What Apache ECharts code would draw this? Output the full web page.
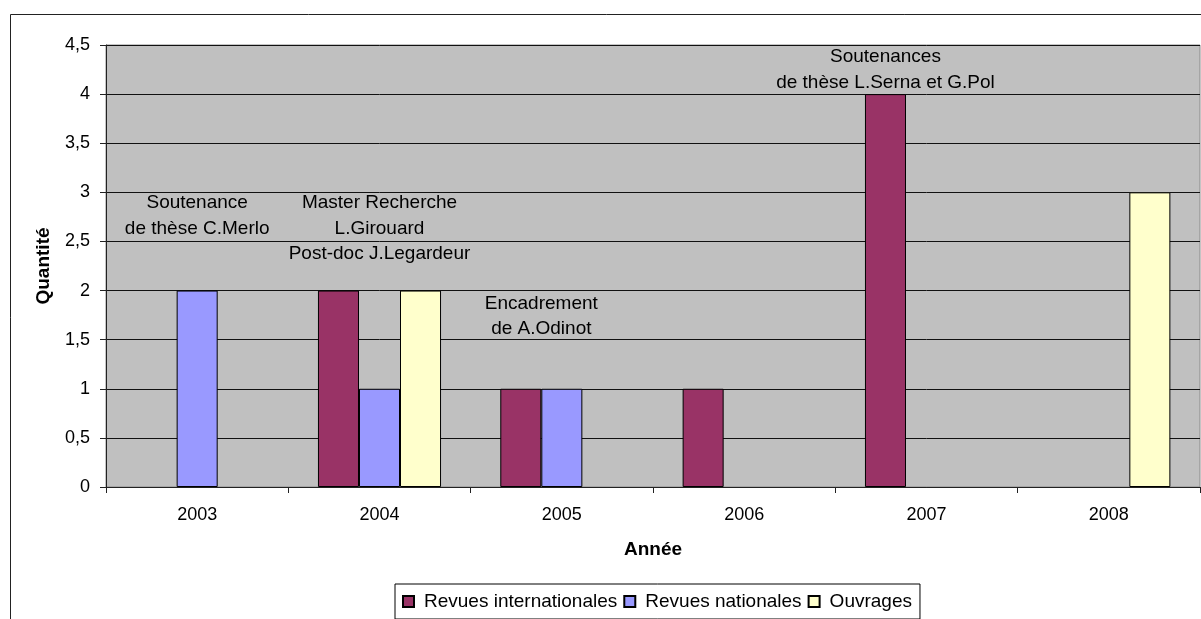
<!DOCTYPE html>
<html lang="fr">
<head>
<meta charset="UTF-8">
<title>Publications par année</title>
<script src="https://cdn.jsdelivr.net/npm/echarts@6/dist/echarts.min.js"></script>
<style>
  html, body { margin: 0; padding: 0; background: #fff; }
  #main { width: 1201px; height: 619px; }
</style>
</head>
<body>
<div id="main"></div>
<script>
// donnees
var years = ['2003', '2004', '2005', '2006', '2007', '2008'];
var revuesInternationales = ['-', 2, 1, 1, 4, '-'];
var revuesNationales = [2, 1, 1, '-', '-', '-'];
var ouvrages = ['-', 2, '-', '-', '-', 3];

// annotations : annee, hauteur (en unites de l'axe), decalage en largeurs de barre
var notes = [
  { year: '2003', value: 2.76, slot: 0, text: 'Soutenance\nde thèse C.Merlo' },
  { year: '2004', value: 2.63, slot: 0, text: 'Master Recherche\nL.Girouard\nPost-doc J.Legardeur' },
  { year: '2005', value: 1.74, slot: -0.5, text: 'Encadrement\nde A.Odinot' },
  { year: '2007', value: 4.25, slot: -1, text: 'Soutenances\nde thèse L.Serna et G.Pol' }
];

var FONT = '"Liberation Sans", Arial, sans-serif';
var catGap = 0.325;

var myChart = echarts.init(document.getElementById('main'));

function barSerie(name, color, data) {
  return {
    name: name,
    type: 'bar',
    data: data,
    barGap: '0%',
    barCategoryGap: (catGap * 100) + '%',
    itemStyle: { color: color, borderColor: '#000', borderWidth: 1 },
    emphasis: { disabled: true }
  };
}

var frame = {
  type: 'rect',
  silent: true,
  shape: { x: 10.5, y: 14.5, width: 1400, height: 800 },
  style: { fill: 'none', stroke: '#222', lineWidth: 1 }
};

var option = {
  animation: false,
  backgroundColor: '#fff',
  textStyle: { fontFamily: FONT },
  grid: {
    left: 106, right: 1, top: 45, bottom: 132,
    show: true,
    backgroundColor: '#c0c0c0',
    borderColor: '#8a8a8a',
    borderWidth: 1,
    containLabel: false
  },
  legend: {
    left: 395,
    top: 584,
    padding: [8, 8, 8, 7],
    itemGap: 6,
    itemWidth: 11,
    itemHeight: 11,
    icon: 'rect',
    borderColor: '#000',
    borderWidth: 1,
    textStyle: { fontSize: 19, color: '#000', fontFamily: FONT, padding: [0, 0, 0, 5] },
    data: ['Revues internationales', 'Revues nationales', 'Ouvrages']
  },
  xAxis: {
    type: 'category',
    data: years,
    name: 'Année',
    nameLocation: 'middle',
    nameGap: 53,
    nameTextStyle: { fontSize: 19, fontWeight: 'bold', color: '#000', fontFamily: FONT },
    axisLine: { lineStyle: { color: '#222', width: 1 } },
    axisTick: { show: true, length: 6, lineStyle: { color: '#222' } },
    axisLabel: { fontSize: 18, color: '#000', margin: 19, fontFamily: FONT },
    splitLine: { show: false }
  },
  yAxis: {
    type: 'value',
    min: 0,
    max: 4.5,
    interval: 0.5,
    name: 'Quantité',
    nameLocation: 'middle',
    nameGap: 53,
    nameTextStyle: { fontSize: 19, fontWeight: 'bold', color: '#000', fontFamily: FONT },
    axisLine: { show: true, lineStyle: { color: '#222', width: 1 } },
    axisTick: { show: true, length: 6, lineStyle: { color: '#222' } },
    axisLabel: {
      fontSize: 18, color: '#000', margin: 16, fontFamily: FONT,
      formatter: function (v) { return String(v).replace('.', ','); }
    },
    splitLine: { show: true, lineStyle: { color: '#111', width: 1 } }
  },
  series: [
    barSerie('Revues internationales', '#993366', revuesInternationales),
    barSerie('Revues nationales', '#9999ff', revuesNationales),
    barSerie('Ouvrages', '#ffffcc', ouvrages)
  ],
  graphic: [frame]
};

myChart.setOption(option);

// placer les annotations a partir des echelles du graphique
var p0 = myChart.convertToPixel({ gridIndex: 0 }, [years[0], 0]);
var p1 = myChart.convertToPixel({ gridIndex: 0 }, [years[1], 0]);
var catWidth = p1[0] - p0[0];
var barW = catWidth * (1 - catGap) / 3;

var texts = notes.map(function (n) {
  var p = myChart.convertToPixel({ gridIndex: 0 }, [n.year, n.value]);
  return {
    type: 'text',
    silent: true,
    x: p[0] + n.slot * barW,
    y: p[1],
    style: {
      text: n.text,
      fontSize: 19,
      fontFamily: FONT,
      lineHeight: 25.5,
      fill: '#000',
      align: 'center',
      verticalAlign: 'middle'
    }
  };
});

myChart.setOption({ graphic: [frame].concat(texts) }, { replaceMerge: ['graphic'] });
</script>
</body>
</html>
